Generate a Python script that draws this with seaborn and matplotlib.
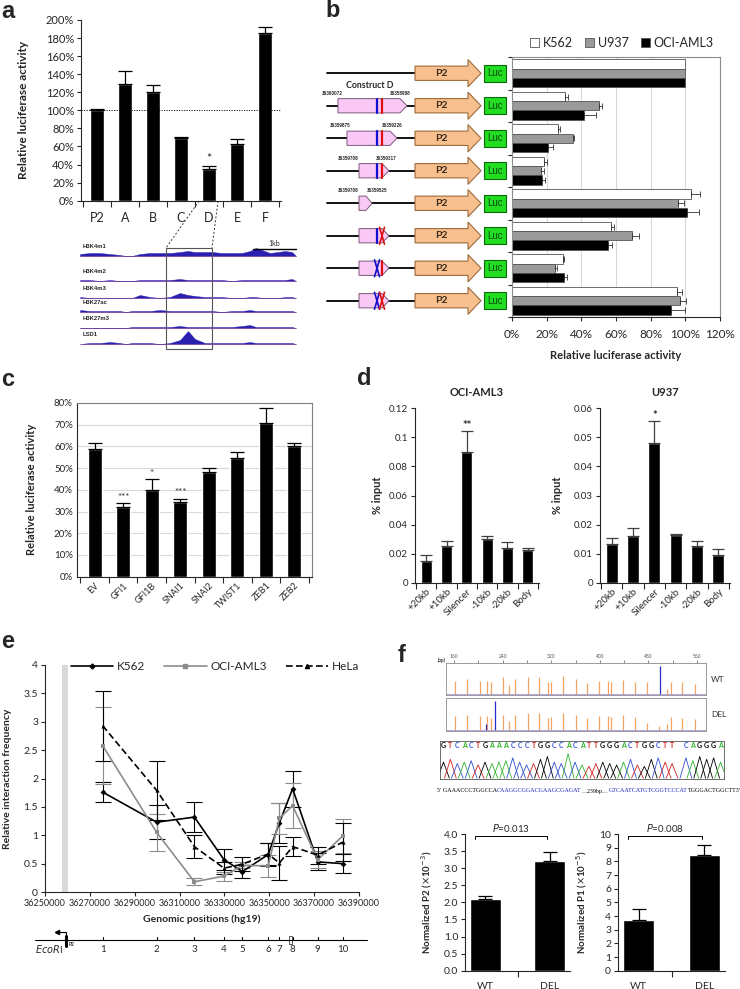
import numpy as np
import pandas as pd
import seaborn as sns
import matplotlib.pyplot as plt
from matplotlib.patches import Polygon, Rectangle, Patch
from matplotlib.lines import Line2D
from matplotlib.transforms import blended_transform_factory as blend

# ---------------- data ----------------
# a: luciferase of fragments
a_cats = ['P2', 'A', 'B', 'C', 'D', 'E', 'F']
a_vals = [1.00, 1.29, 1.20, 0.69, 0.35, 0.63, 1.86]
a_err = [0.01, 0.15, 0.08, 0.01, 0.03, 0.05, 0.06]

# a: histone / LSD1 tracks (x in px of the browser shot, height in px)
trk_names = ['H3K4m1', 'H3K4m2', 'H3K4m3', 'H3K27ac', 'H3K27m3', 'LSD1']
trk_x = [80, 90, 100, 110, 120, 126, 132, 140, 150, 160, 170, 180, 188, 195, 205,
         212, 222, 232, 242, 250, 256, 262, 270, 278, 285, 292, 296]
trk_h = [
    [2, 3, 3, 2, 1, 0, 0, 2, 3, 3, 3, 4, 5, 4, 4, 4, 3, 3, 3, 5, 8, 6, 3, 4, 5, 4, 0],
    [1, 1, 0, 1, 0, 0, 0, 1, 1, 1, 1, 2, 1, 1, 1, 1, 1, 0, 1, 1, 1, 1, 1, 1, 1, 2, 0],
    [1, 0, 0, 0, 0, 0, 0, 3, 1, 0, 1, 5, 3, 2, 1, 1, 1, 0, 0, 1, 1, 0, 0, 0, 1, 1, 0],
    [2, 1, 1, 1, 1, 0, 1, 1, 1, 2, 1, 1, 1, 1, 1, 1, 0, 1, 1, 2, 1, 1, 1, 1, 1, 1, 0],
    [0, 0, 0, 0, 0, 0, 1, 1, 1, 1, 1, 2, 1, 1, 1, 1, 1, 1, 2, 3, 1, 1, 1, 1, 1, 1, 0],
    [0, 1, 1, 2, 1, 0, 1, 1, 1, 0, 1, 4, 13, 5, 1, 1, 1, 1, 1, 2, 1, 1, 1, 1, 1, 1, 0],
]

# b: constructs
b_cells = ['K562', 'U937', 'OCI-AML3']
b_k562 = [100, 30.5, 26.5, 18.5, 103, 57, 29.5, 95]
b_u937 = [100, 50, 35, 17, 96, 69, 25, 97]
b_oci = [100, 41.5, 21, 17.5, 101, 55.5, 30, 92]
b_k562_err = [0, 1.8, 1.2, 1.5, 5.5, 2, 0.5, 3]
b_u937_err = [0, 2, 1, 1.5, 3, 4.5, 1, 3.5]
b_oci_err = [0, 7, 2.5, 1.5, 7, 2, 2, 8]
b_elem = [None, (338, 407), (347, 397), (359, 389), (359, 372), (359, 389), (359, 389), (359, 389)]
b_coord = [None, ('36360072', '36358988'), ('36359875', '36359226'),
           ('36359708', '36359317'), ('36359708', '36359525'), None, None, None]
b_coord_x = [None, (332, 400), (340, 392), (348, 386), (348, 377), None, None, None]
b_site = [None, 'll', 'll', 'll', '', 'lx', 'xl', 'xx']   # blue / red: line or X

# c: TF co-transfection
c_cats = ['EV', 'GFI1', 'GFI1B', 'SNAI1', 'SNAI2', 'TWIST1', 'ZEB1', 'ZEB2']
c_vals = [59, 32, 40, 34.5, 48, 54.5, 71, 60]
c_err = [2.5, 2, 5, 1.5, 2, 3, 6.5, 1.5]
c_stars = ['', '***', '*', '***', '', '', '', '']

# d: ChIP
d_cats = ['+20kb', '+10kb', 'Silencer', '-10kb', '-20kb', 'Body']
d_oci = [0.015, 0.0255, 0.090, 0.0305, 0.024, 0.0225]
d_oci_err = [0.0045, 0.003, 0.014, 0.0017, 0.004, 0.0015]
d_u937 = [0.0133, 0.016, 0.048, 0.0163, 0.0128, 0.0097]
d_u937_err = [0.0022, 0.003, 0.0075, 0.0004, 0.0015, 0.002]

# e: 3C
e_pos = [36275700, 36299800, 36316600, 36329800, 36338000, 36349500, 36354500,
         36360400, 36371600, 36382800]
e_k562 = [1.76, 1.23, 1.32, 0.57, 0.36, 0.66, 1.22, 1.82, 0.53, 0.50]
e_k562_err = [0.18, 0.30, 0.27, 0.18, 0.12, 0.20, 0.35, 0.32, 0.15, 0.17]
e_oci = [2.58, 1.05, 0.18, 0.28, 0.47, 0.46, 1.30, 1.52, 0.57, 0.99]
e_oci_err = [0.68, 0.33, 0.06, 0.08, 0.05, 0.20, 0.27, 0.40, 0.15, 0.30]
e_hela = [2.93, 1.79, 0.80, 0.42, 0.49, 0.67, 0.51, 0.80, 0.65, 0.88]
e_hela_err = [0.62, 0.52, 0.20, 0.10, 0.12, 0.20, 0.30, 0.17, 0.15, 0.33]
e_band = [36257600, 36260100]
e_frag = ['1', '2', '3', '4', '5', '6', '7', '8', '9', '10']

# f: chromatograms and qPCR
wt_peaks = [162, 182, 202, 215, 221, 241, 251, 261, 281, 300, 314, 320, 340, 360, 379,
            399, 413, 418, 438, 458, 478, 511, 517, 536, 556]
wt_h = [0.45, 0.5, 0.45, 0.45, 0.4, 0.55, 0.3, 0.5, 0.55, 0.55, 0.4, 0.42, 0.6, 0.5, 0.38,
        0.45, 0.45, 0.42, 0.48, 0.42, 0.42, 0.2, 0.42, 0.4, 0.35]
wt_blue = [499]
wt_blue_h = [0.92]
del_peaks = [162, 182, 202, 215, 221, 241, 251, 261, 281, 300, 314, 320, 340, 360, 379,
             399, 413, 418, 438, 458, 478, 497, 511, 517, 536, 556]
del_h = [0.45, 0.5, 0.45, 0.45, 0.4, 0.5, 0.3, 0.5, 0.55, 0.55, 0.4, 0.42, 0.55, 0.5, 0.38,
         0.45, 0.45, 0.42, 0.48, 0.42, 0.25, 0.15, 0.2, 0.42, 0.4, 0.35]
del_blue = [213, 228]
del_blue_h = [0.2, 0.92]
sanger_seq = 'GTCACTGAAACCCTGGCCACATTGGGACTGGCTT CAGGGA'
sanger_h = [0.6, 0.7, 0.55, 0.6, 0.65, 0.5, 0.6, 0.55, 0.6, 0.65, 0.75, 0.6, 0.5, 0.55,
            0.7, 0.8, 0.6, 0.55, 0.9, 0.6, 0.5, 0.45, 0.55, 0.6, 0.55, 0.5, 0.6, 0.7, 0.5,
            0.45, 0.7, 0.75, 0.6, 0.55, 0.75, 0.65, 0.8, 0.7, 0.75, 0.6]
seq_parts = [('5\u2032 GAAACCCTGGCCA', 'black'), ('CAAGGCGGACGAAGCGAGAT', '#2424C8'),
             ('\u2026239bp\u2026', 'black'), ('GTCAATCATGTCGGTCCCAT', '#2424C8'),
             ('TGGGACTGGCTT3\u2032', 'black')]
f_cats = ['WT', 'DEL']
f_p2 = [2.1, 3.2]
f_p2_err = [0.1, 0.28]
f_p1 = [3.7, 8.5]
f_p1_err = [0.85, 0.7]

# ---------------- figure ----------------
sns.set_style('white')
plt.rcParams['font.family'] = ['Lato', 'DejaVu Sans']
plt.rcParams['axes.linewidth'] = 0.8
plt.rcParams['xtick.major.width'] = 0.8
plt.rcParams['ytick.major.width'] = 0.8
plt.rcParams['xtick.minor.width'] = 0.8
plt.rcParams['ytick.minor.width'] = 0.8

W, H = 740, 989
fig = plt.figure(figsize=(W / 100, H / 100), dpi=100)


def px_axes(x0, y0, x1, y1):
    return fig.add_axes([x0 / W, 1 - y1 / H, (x1 - x0) / W, (y1 - y0) / H])


def ylab_at(ax, x_px):
    ax.yaxis.set_label_coords(x_px / W, 0.5, transform=blend(fig.transFigure, ax.transAxes))


def xlab_at(ax, y_px):
    ax.xaxis.set_label_coords(0.5, 1 - y_px / H, transform=blend(ax.transAxes, fig.transFigure))


def cat_ticks(ax, n, size):
    ax.set_xticks(np.arange(-0.5, n, 1), minor=True)
    ax.tick_params(axis='x', which='major', length=0, labelsize=size)
    ax.tick_params(axis='x', which='minor', length=4, direction='out', bottom=True)


def bar_err(ax, vals, errs, cap=4, color='black'):
    ax.errorbar(np.arange(len(vals)), vals, yerr=[np.zeros(len(vals)), errs], fmt='none',
                ecolor=color, elinewidth=0.9, capsize=cap, capthick=0.9)


# ---- a ----
ax_a = px_axes(81, 20, 281, 200.7)
sns.barplot(x=a_cats, y=a_vals, color='black', width=0.5, ax=ax_a)
bar_err(ax_a, a_vals, a_err, cap=5)
ax_a.axhline(1.0, ls=(0, (1.5, 1.5)), color='black', lw=0.6)
ax_a.set_ylim(0, 2.0)
ax_a.set_yticks(np.arange(0, 2.01, 0.2))
ax_a.set_yticklabels([f'{int(round(v * 100))}%' for v in np.arange(0, 2.01, 0.2)], fontsize=8)
ax_a.tick_params(axis='y', length=3, direction='out', left=True, pad=2)
cat_ticks(ax_a, 7, 9)
ax_a.tick_params(axis='x', pad=8)
ax_a.set_ylabel('Relative luciferase activity', fontsize=8.5, fontweight='bold')
ylab_at(ax_a, 29)
sns.despine(ax=ax_a)
ax_a.text(4, a_vals[4] + a_err[4] + 0.01, '*', ha='center', va='bottom', fontsize=9)

# genome tracks
ax_t = px_axes(78, 236, 300, 352)
ax_t.set_xlim(78, 300)
ax_t.set_ylim(352, 236)
ax_t.axis('off')
trk_base = [256, 281, 298, 312, 328, 344]
for name, hs, yb in zip(trk_names, trk_h, trk_base):
    ax_t.fill_between(trk_x, yb, yb - np.array(hs), color='#2B1FB0', lw=0.3)
    ax_t.plot([80, 296], [yb, yb], color='#B04080', lw=0.4, alpha=0.6)
    ax_t.text(83, yb - 7, name, fontsize=4.2, fontweight='bold', va='bottom',
              family=['Liberation Sans'])
ax_t.add_patch(Rectangle((166, 248), 46, 101, fill=False, ec='#555555', lw=0.8))
ax_t.plot([253, 296], [249, 249], color='black', lw=1)
ax_t.text(274.5, 247, '1kb', fontsize=5, ha='center', va='bottom')

# ---- b ----
ax_b = px_axes(512, 57, 720, 317)
b_df = pd.DataFrame({
    'construct': [str(i) for i in range(8)] * 3,
    'cell': [c for c in b_cells for _ in range(8)],
    'value': b_k562 + b_u937 + b_oci,
})
sns.barplot(data=b_df, x='value', y='construct', hue='cell', hue_order=b_cells,
            palette=['white', '#9A9A9A', 'black'], edgecolor='#555555', linewidth=0.6,
            width=0.85, orient='h', errorbar=None, legend=False, ax=ax_b)
for cont, errs in zip(ax_b.containers, [b_k562_err, b_u937_err, b_oci_err]):
    for bar, e in zip(cont, errs):
        if e > 0:
            ax_b.errorbar(bar.get_width(), bar.get_y() + bar.get_height() / 2,
                          xerr=[[0], [e]], fmt='none', ecolor='#333333', elinewidth=0.6,
                          capsize=2, capthick=0.6)
ax_b.set_xlim(0, 120)
ax_b.set_ylim(7.5, -0.5)
ax_b.set_xticks(np.arange(0, 121, 20))
ax_b.set_xticklabels([f'{v}%' for v in range(0, 121, 20)], fontsize=8.5)
ax_b.xaxis.grid(True, color='#D9D9D9', lw=0.8)
ax_b.set_axisbelow(True)
ax_b.set_yticks([])
ax_b.set_yticks(np.arange(-0.5, 8, 1), minor=True)
ax_b.tick_params(axis='y', which='minor', length=3, direction='out', left=True)
ax_b.tick_params(axis='x', length=3, direction='out', bottom=True, pad=6)
ax_b.set_ylabel('')
ax_b.set_xlabel('Relative luciferase activity', fontsize=8, fontweight='bold')
xlab_at(ax_b, 350)
for s in ['top', 'right', 'left']:
    ax_b.spines[s].set_color('#8C8C8C')
fig.legend(handles=[Patch(facecolor=c, edgecolor='#555555', lw=0.6)
                    for c in ['white', '#9A9A9A', 'black']],
           labels=b_cells, ncol=3, loc='center', bbox_to_anchor=(622 / W, 1 - 43 / H),
           frameon=False, fontsize=9, handlelength=0.7, handleheight=0.7,
           handletextpad=0.3, columnspacing=1.0)

# construct drawings
ax_s = px_axes(322, 57, 510, 317)
ax_s.set_xlim(322, 510)
ax_s.set_ylim(7.5, -0.5)
ax_s.axis('off')
for r in range(8):
    ax_s.plot([327, 415], [r, r], color='black', lw=1.3, zorder=1)
    ax_s.add_patch(Polygon([(415, r - 0.22), (468, r - 0.22), (468, r - 0.42), (481, r),
                            (468, r + 0.42), (468, r + 0.22), (415, r + 0.22)],
                           closed=True, fc='#F8C08F', ec='#9C6B3C', lw=0.8, zorder=2))
    ax_s.text(441, r, 'P2', ha='center', va='center', fontsize=7.5, fontweight='bold',
              color='#3A2A1A', zorder=3)
    ax_s.add_patch(Rectangle((484, r - 0.26), 22, 0.52, fc='#22DD22', ec='#0A6A0A', lw=0.8))
    ax_s.text(495, r, 'Luc', ha='center', va='center', fontsize=7, color='#0A4A0A', zorder=3,
              family=['Liberation Sans'])
    if b_elem[r] is not None:
        x0, x1 = b_elem[r]
        tip = 7 if x1 - x0 > 20 else 6
        ax_s.add_patch(Polygon([(x0, r - 0.22), (x1 - tip, r - 0.22), (x1, r),
                                (x1 - tip, r + 0.22), (x0, r + 0.22)], closed=True,
                               fc='#F9C8F5', ec='#7A5A7A', lw=0.7, zorder=2))
        for xs, col, kind in zip([377, 382], ['#1010CC', '#DD1010'], b_site[r] or ''):
            if kind == 'l':
                ax_s.plot([xs, xs], [r - 0.22, r + 0.22], color=col, lw=1.6, zorder=3)
            else:
                ax_s.plot([xs - 2.5, xs + 2.5], [r - 0.26, r + 0.26], color=col, lw=1.2, zorder=3)
                ax_s.plot([xs - 2.5, xs + 2.5], [r + 0.26, r - 0.26], color=col, lw=1.2, zorder=3)
    if b_coord[r] is not None:
        for lab, xc in zip(b_coord[r], b_coord_x[r]):
            ax_s.text(xc, r - 0.31, lab, fontsize=3.3, fontweight='bold',
                      ha='center', va='bottom', family=['Liberation Sans'])
ax_s.text(346, 0.38, 'Construct D', fontsize=6.3, fontweight='bold', va='center')

# ---- c ----
ax_c = px_axes(77, 403, 312, 576.7)
sns.barplot(x=c_cats, y=c_vals, color='black', width=0.49, ax=ax_c)
bar_err(ax_c, c_vals, c_err, cap=5)
ax_c.set_ylim(0, 80)
ax_c.set_yticks(np.arange(0, 81, 10))
ax_c.set_yticklabels([f'{v}%' for v in range(0, 81, 10)], fontsize=7)
ax_c.yaxis.grid(True, color='#D9D9D9', lw=0.8)
ax_c.set_axisbelow(True)
ax_c.tick_params(axis='y', length=0, pad=3)
cat_ticks(ax_c, 8, 6.5)
ax_c.set_xticklabels(c_cats, rotation=45, ha='right', rotation_mode='anchor')
ax_c.tick_params(axis='x', pad=3)
for s in ['top', 'right']:
    ax_c.spines[s].set_color('#7F7F7F')
ax_c.set_ylabel('Relative luciferase activity', fontsize=8, fontweight='bold')
ylab_at(ax_c, 37)
for i, st in enumerate(c_stars):
    if st:
        ax_c.text(i, c_vals[i] + c_err[i] + 0.5, st, ha='center', va='bottom', fontsize=7)

# ---- d ----
for (x0, x1, vals, errs, top, step, title, star, ylx) in [
        (415, 539, d_oci, d_oci_err, 0.12, 0.02, 'OCI-AML3', '**', 383),
        (600, 730, d_u937, d_u937_err, 0.06, 0.01, 'U937', '*', 563)]:
    ax_d = px_axes(x0, 408, x1, 583)
    sns.barplot(x=d_cats, y=vals, color='black', width=0.55, ax=ax_d)
    bar_err(ax_d, vals, errs, cap=4, color='#404040')
    ax_d.set_ylim(0, top)
    ticks = np.arange(0, top + step / 2, step)
    ax_d.set_yticks(ticks)
    ax_d.set_yticklabels([f'{v:g}' for v in np.round(ticks, 3)], fontsize=7)
    ax_d.tick_params(axis='y', length=3, direction='out', left=True, pad=2)
    cat_ticks(ax_d, 6, 7)
    ax_d.set_xticklabels(d_cats, rotation=45, ha='right', rotation_mode='anchor')
    ax_d.tick_params(axis='x', pad=3)
    sns.despine(ax=ax_d)
    ax_d.set_ylabel('% input', fontsize=8, fontweight='bold')
    ylab_at(ax_d, ylx)
    ax_d.set_title(title, fontsize=8, fontweight='bold', pad=9)
    ax_d.text(2, vals[2] + errs[2] + top * 0.003, star, ha='center', va='bottom', fontsize=8,
              fontweight='bold', clip_on=False)

# ---- e ----
ax_e = px_axes(45, 665, 359, 892)
e_df = pd.DataFrame({
    'pos': e_pos * 3,
    'value': e_k562 + e_oci + e_hela,
    'cell': ['K562'] * 10 + ['OCI-AML3'] * 10 + ['HeLa'] * 10,
})
e_cols = {'K562': 'black', 'OCI-AML3': '#8C8C8C', 'HeLa': 'black'}
ax_e.axvspan(e_band[0], e_band[1], color='#D9D9D9', lw=0)
for vals, errs, cell in [(e_k562, e_k562_err, 'K562'), (e_oci, e_oci_err, 'OCI-AML3'),
                         (e_hela, e_hela_err, 'HeLa')]:
    ax_e.errorbar(e_pos, vals, yerr=errs, fmt='none', ecolor=e_cols[cell], elinewidth=0.8,
                  capsize=6, capthick=0.8)
sns.lineplot(data=e_df, x='pos', y='value', hue='cell', style='cell',
             hue_order=['K562', 'OCI-AML3', 'HeLa'], palette=e_cols,
             markers={'K562': 'D', 'OCI-AML3': 's', 'HeLa': '^'},
             dashes={'K562': '', 'OCI-AML3': '', 'HeLa': (4, 2)},
             markersize=3, markeredgewidth=0, lw=1.2, legend=False, ax=ax_e)
ax_e.set_xlim(36250000, 36390000)
ax_e.set_ylim(0, 4)
ax_e.set_xticks(np.arange(36250000, 36390001, 20000))
ax_e.set_xticklabels([str(v) for v in range(36250000, 36390001, 20000)], fontsize=6.5)
ax_e.set_yticks(np.arange(0, 4.01, 0.5))
ax_e.set_yticklabels([f'{v:g}' for v in np.arange(0, 4.01, 0.5)], fontsize=7.5)
ax_e.tick_params(length=3, direction='out', left=True, bottom=True, pad=2)
sns.despine(ax=ax_e)
ax_e.set_xlabel('Genomic positions (hg19)', fontsize=7.5, fontweight='bold')
xlab_at(ax_e, 914)
ax_e.set_ylabel('Relative interaction frequency', fontsize=7.5, fontweight='bold')
ylab_at(ax_e, 12)
fig.legend(handles=[Line2D([], [], color='black', marker='D', ms=2.5, lw=1.2),
                    Line2D([], [], color='#8C8C8C', marker='s', ms=3, lw=1.2),
                    Line2D([], [], color='black', marker='^', ms=3, lw=1.2, ls=(0, (4, 2)))],
           labels=['K562', 'OCI-AML3', 'HeLa'], ncol=3, loc='center',
           bbox_to_anchor=(215 / W, 1 - 667 / H), frameon=False, fontsize=8.5,
           handlelength=3.6, handletextpad=0.3, columnspacing=1.6)

# EcoRI map under e
ax_m = px_axes(45, 925, 359, 955)
ax_m.set_xlim(ax_e.get_xlim())
ax_m.set_ylim(955, 925)
ax_m.axis('off')
ax_m.plot([36245500, 36393500], [940, 940], color='black', lw=0.8, clip_on=False)
for p, lab in zip(e_pos, e_frag):
    ax_m.plot([p, p], [936.5, 940], color='black', lw=0.8)
    ax_m.text(p, 949, lab, ha='center', va='center', fontsize=7)
ax_m.add_patch(Rectangle((e_pos[7] - 1700, 936), 1400, 8, fill=False, ec='#555555', lw=0.7))
ax_m.plot([36259300, 36259300], [936, 946], color='black', lw=2.2)
ax_m.plot([36259300, 36259300, 36255500], [936, 932, 932], color='black', lw=0.8)
ax_m.plot([36255500], [932], marker='<', ms=3, color='black')
ax_m.text(36260500, 944, 'P2', fontsize=3.5, fontweight='bold', va='center')
ax_m.text(36245500, 949, r'$\mathit{EcoR}$I', fontsize=7, va='center', ha='left',
          clip_on=False)

# ---- f ----
for y0, y1, pk, ph, bl, bh, lab in [(663, 695, wt_peaks, wt_h, wt_blue, wt_blue_h, 'WT'),
                                    (698, 731, del_peaks, del_h, del_blue, del_blue_h, 'DEL')]:
    ax_ch = px_axes(446, y0, 706, y1)
    ax_ch.set_xlim(146.8, 574.8)
    ax_ch.set_ylim(0, 1)
    ax_ch.vlines(pk, 0.04, ph, color='#F4A460', lw=0.9)
    ax_ch.vlines(bl, 0.04, bh, color='#2A2ACC', lw=0.9)
    ax_ch.axhline(0.04, color='#9A80D0', lw=0.5)
    ax_ch.set_yticks([])
    for s in ax_ch.spines.values():
        s.set_color('#8C8C8C')
        s.set_linewidth(0.6)
    if lab == 'WT':
        ax_ch.set_xticks(np.arange(160, 561, 40))
        ax_ch.set_xticklabels([str(v) if v % 80 == 0 else '' for v in range(160, 561, 40)])
        ax_ch.tick_params(axis='x', top=True, bottom=False, labeltop=True, labelbottom=False,
                          length=2, width=0.5, labelsize=3.5, pad=1, colors='#555555')
    else:
        ax_ch.set_xticks([])
    ax_ch.text(1.02, 0.5, lab, transform=ax_ch.transAxes, fontsize=6, va='center',
               color='#333333')
fig.text(438 / W, 1 - 660 / H, '(bp)', fontsize=3.5, fontweight='bold', va='center',
         ha='left', color='#333333')

ax_sg = px_axes(440, 741, 724, 779)
ax_sg.set_xlim(-0.5, len(sanger_seq) - 0.5)
ax_sg.set_ylim(0, 1.35)
ax_sg.set_xticks([])
ax_sg.set_yticks([])
for s in ax_sg.spines.values():
    s.set_color('#555555')
    s.set_linewidth(0.6)
base_col = {'A': '#2DB52D', 'C': '#2F4FD0', 'G': 'black', 'T': '#D42020'}
k = 0
for i, ch in enumerate(sanger_seq):
    if ch == ' ':
        continue
    ax_sg.text(i, 1.2, ch, color=base_col[ch], ha='center', va='center', fontsize=5,
               fontweight='bold')
    h = sanger_h[k]
    k += 1
    ax_sg.plot([i - 0.85, i - 0.4, i, i + 0.4, i + 0.85], [0.03, 0.55 * h, h, 0.55 * h, 0.03],
               color=base_col[ch], lw=0.6)

for x0, x1, vals, errs, top, step, ylab, ylx, ptxt, fmt in [
        (465, 570, f_p2, f_p2_err, 4.0, 0.5, r'Normalized P2 ($\times$10$^{-3}$)', 434,
         '=0.013', '{:.1f}'),
        (618, 725, f_p1, f_p1_err, 10, 1, r'Normalized P1 ($\times$10$^{-5}$)', 589,
         '=0.008', '{:g}')]:
    ax_f = px_axes(x0, 834, x1, 970.7)
    sns.barplot(x=f_cats, y=vals, color='black', width=0.48, ax=ax_f)
    bar_err(ax_f, vals, errs, cap=5)
    ax_f.set_ylim(0, top)
    ticks = np.arange(0, top + step / 2, step)
    ax_f.set_yticks(ticks)
    ax_f.set_yticklabels([fmt.format(v) for v in ticks], fontsize=7.5)
    ax_f.tick_params(axis='y', length=3, direction='out', left=True, pad=2)
    cat_ticks(ax_f, 2, 7.5)
    ax_f.tick_params(axis='x', pad=8)
    sns.despine(ax=ax_f)
    ax_f.set_ylabel(ylab, fontsize=7, fontweight='bold')
    ylab_at(ax_f, ylx)
    yb = top * 0.985
    ax_f.plot([-0.16, -0.16, 0.96, 0.96], [yb - top * 0.025, yb, yb, yb - top * 0.025],
              color='black', lw=0.7, clip_on=False)
    ax_f.text(0.4, yb + top * 0.012, r'$\mathit{P}$' + ptxt, ha='center', va='bottom',
              fontsize=7, clip_on=False)

# ---- overlay: panel letters, zoom lines, sequence ----
ax_o = fig.add_axes([0, 0, 1, 1])
ax_o.set_xlim(0, W)
ax_o.set_ylim(H, 0)
ax_o.axis('off')
for lt, x, y in [('a', 1, 18), ('b', 325, 17), ('c', 1, 386), ('d', 357, 385),
                 ('e', 1, 648), ('f', 398, 662)]:
    ax_o.text(x, y, lt, fontsize=17, fontweight='bold', family=['Liberation Sans'],
              ha='left', va='baseline')
ax_o.plot([199, 166], [201, 248], ls=(0, (2, 2)), color='#333333', lw=0.7)
ax_o.plot([218, 212], [201, 248], ls=(0, (2, 2)), color='#333333', lw=0.7)

renderer = fig.canvas.get_renderer()
xc = 437
for txt, col in seq_parts:
    t = ax_o.text(xc, 791, txt, color=col, fontsize=4.3, va='center', ha='left',
                  family=['Liberation Serif', 'DejaVu Serif'])
    xc += t.get_window_extent(renderer).width

fig.savefig('out.png', dpi=100)
